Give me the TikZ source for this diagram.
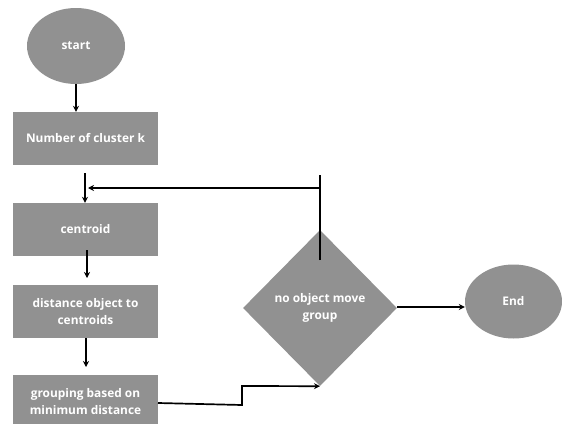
\documentclass[tikz,border=0pt]{standalone}
\usepackage{fontspec}
\setmainfont{Open Sans}
\usetikzlibrary{shapes.geometric,arrows.meta}
\definecolor{boxgray}{RGB}{145,145,145}
\begin{document}
\begin{tikzpicture}[x=1pt,y=-1pt,
  lbl/.style={font=\fontsize{11.9}{17}\selectfont\bfseries, text=white, align=center},
  term/.style={lbl, ellipse, fill=boxgray, inner sep=0pt},
  proc/.style={lbl, rectangle, fill=boxgray, minimum width=145pt, minimum height=53pt, inner sep=0pt},
  decis/.style={lbl, diamond, fill=boxgray, minimum width=154pt, minimum height=156pt, inner sep=0pt},
  conn/.style={line width=1.7pt, -{Stealth[length=6pt,width=6pt]}},
  plainline/.style={line width=1.7pt}]
\useasboundingbox (0,0) rectangle (562,423);
\clip (0,0) rectangle (562,423);
\node[term, minimum width=98pt, minimum height=76pt] (start) at (76,46) {start};
\node[proc] (nck) at (85.5,138.5) {Number of cluster k};
\node[proc] (cen) at (85.5,229.5) {centroid};
\node[proc] (dist) at (85.5,311.5) {distance object to\\centroids};
\node[proc] (grp) at (85.5,401.5) {grouping based on\\minimum distance};
\node[decis] (dec) at (320,308) {no object move\\group};
\node[term, minimum width=97pt, minimum height=74pt] (end) at (513.5,301.5) {End};
% start -> number of clusters
\draw[conn] (start.south) -- (start.south |- nck.north);
% into centroid
\coordinate (inA) at (85,173);
\draw[conn] (inA) -- (inA |- cen.north);
% feedback loop
\coordinate (fbtop) at (320,175);
\coordinate (fbin) at (320,260);
\coordinate (fbend) at (88,188);
\draw[plainline] (fbin) -- (fbtop);
\draw[conn] (fbtop |- fbend) -- (fbend);
% centroid -> distance
\coordinate (cA) at (87,250);
\coordinate (cB) at (87,278);
\draw[conn] (cA) -- (cB);
% distance -> grouping
\coordinate (dA) at (86,338);
\coordinate (dB) at (86,367);
\draw[conn] (dA) -- (dB);
% grouping -> decision
\coordinate (gA) at (158,403);
\coordinate (gB) at (242,405);
\coordinate (gC) at (242,386);
\draw[conn, line join=miter] (gA) -- (gB) -- (gC) -- (dec.south);
% decision -> end
\coordinate (eA) at (397,307);
\draw[conn] (eA) -- (eA -| end.west);
\end{tikzpicture}
\end{document}
